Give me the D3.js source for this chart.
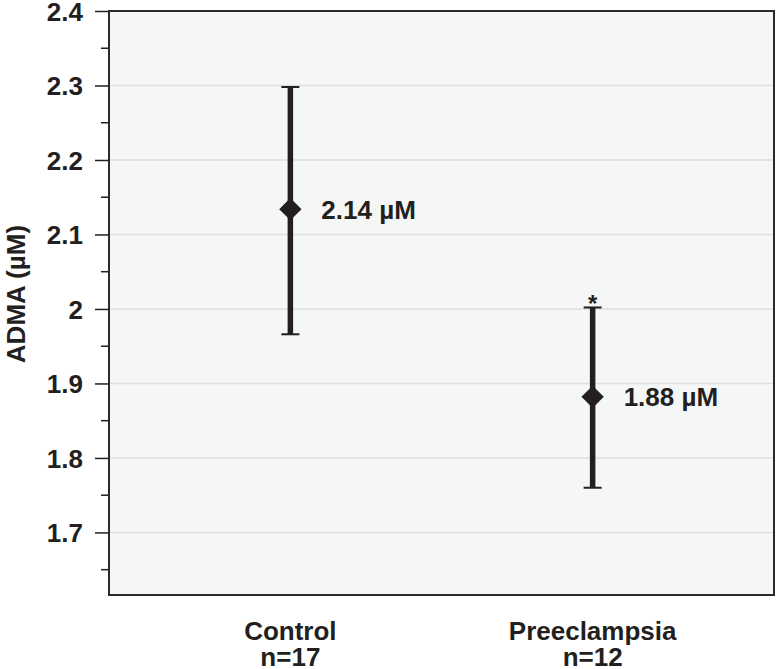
<!DOCTYPE html>
<html><head><meta charset="utf-8">
<script src="https://cdn.jsdelivr.net/npm/d3@7"></script>
<style>
html,body{margin:0;padding:0;background:#fff;}
text{font-family:"Liberation Sans",Arial,sans-serif;font-weight:bold;fill:#231f20;}
</style></head>
<body>
<svg id="chart" width="777" height="669"></svg>
<script>
const categories = ["Control", "Preeclampsia"];
const sampleSizes = ["n=17", "n=12"];
const means = [2.134, 1.882];
const upper = [2.298, 2.002];
const lower = [1.966, 1.760];
const valueLabels = ["2.14 µM", "1.88 µM"];
const significance = ["", "*"];
const yTicks = [1.7, 1.8, 1.9, 2, 2.1, 2.2, 2.3, 2.4];
const yMinorTicks = [1.65, 1.75, 1.85, 1.95, 2.05, 2.15, 2.25, 2.35];
const yDomain = [1.616, 2.4];

const W = 777, H = 669;
const m = {left: 109, top: 11, right: 3, bottom: 74};
const svg = d3.select("#chart");
const iw = W - m.left - m.right, ih = H - m.top - m.bottom;

const x = d3.scalePoint().domain(categories).range([0, iw]).padding(0.6);
const y = d3.scaleLinear().domain(yDomain).range([ih, 0]);

const g = svg.append("g").attr("transform", `translate(${m.left},${m.top})`);

g.append("rect").attr("width", iw).attr("height", ih).attr("fill", "#f5f7f6");

// gridlines
g.selectAll(".grid").data(yTicks.filter(t => t < 2.4)).join("line")
  .attr("x1", 0).attr("x2", iw)
  .attr("y1", d => y(d)).attr("y2", d => y(d))
  .attr("stroke", "#dcdfde").attr("stroke-width", 1.5);

// minor ticks
g.selectAll(".minor").data(yMinorTicks).join("line")
  .attr("x1", -8).attr("x2", 0)
  .attr("y1", d => y(d)).attr("y2", d => y(d))
  .attr("stroke", "#231f20").attr("stroke-width", 1.5);

// y axis
const yAxis = g.append("g").call(d3.axisLeft(y).tickValues(yTicks).tickFormat(d3.format("~g")).tickSize(14).tickPadding(12));
yAxis.select(".domain").remove();
yAxis.selectAll(".tick line").attr("stroke", "#231f20").attr("stroke-width", 1.5);
yAxis.selectAll(".tick text").style("font-size", "26px").attr("fill", "#231f20").attr("dy", "0.36em");

// frame
g.append("rect").attr("width", iw).attr("height", ih).attr("fill", "none")
  .attr("stroke", "#2b2b2b").attr("stroke-width", 2);

// error bars
const data = categories.map((c, i) => ({c, mean: means[i], hi: upper[i], lo: lower[i], label: valueLabels[i], sig: significance[i]}));
const eg = g.selectAll(".eb").data(data).join("g");
eg.append("line")
  .attr("x1", d => x(d.c)).attr("x2", d => x(d.c))
  .attr("y1", d => y(d.hi)).attr("y2", d => y(d.lo))
  .attr("stroke", "#231f20").attr("stroke-width", 5.5);
eg.append("line")
  .attr("x1", d => x(d.c) - 9).attr("x2", d => x(d.c) + 9)
  .attr("y1", d => y(d.hi)).attr("y2", d => y(d.hi))
  .attr("stroke", "#231f20").attr("stroke-width", 2);
eg.append("line")
  .attr("x1", d => x(d.c) - 9).attr("x2", d => x(d.c) + 9)
  .attr("y1", d => y(d.lo)).attr("y2", d => y(d.lo))
  .attr("stroke", "#231f20").attr("stroke-width", 2);
eg.append("path")
  .attr("d", d3.symbol().type(d3.symbolSquare).size(250))
  .attr("transform", d => `translate(${x(d.c)},${y(d.mean)}) rotate(45)`)
  .attr("fill", "#231f20");
eg.append("text")
  .attr("x", d => x(d.c) + 31).attr("y", d => y(d.mean))
  .attr("dy", "0.36em")
  .style("font-size", "26px")
  .text(d => d.label);
eg.filter(d => d.sig).append("text")
  .attr("x", d => x(d.c)).attr("y", d => y(d.hi) + 5)
  .attr("text-anchor", "middle")
  .style("font-size", "24px")
  .text(d => d.sig);

// x labels
const xl = g.selectAll(".xl").data(categories).join("text")
  .attr("x", d => x(d)).attr("y", ih + 45)
  .attr("text-anchor", "middle").style("font-size", "26px");
xl.append("tspan").attr("x", d => x(d)).text(d => d);
xl.append("tspan").attr("x", d => x(d)).attr("dy", 26).text((d, i) => sampleSizes[i]);

// y title
svg.append("text")
  .attr("transform", `translate(25,${m.top + y(2.02)}) rotate(-90)`)
  .attr("text-anchor", "middle")
  .style("font-size", "26px")
  .text("ADMA (µM)");
</script>
</body></html>
